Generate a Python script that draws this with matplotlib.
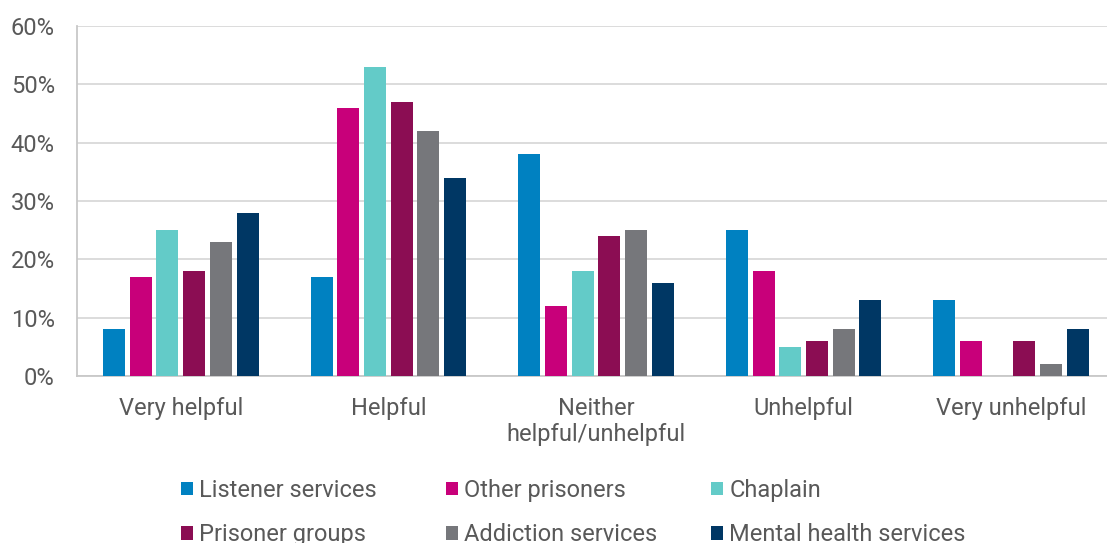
import numpy as np
import matplotlib.pyplot as plt
from matplotlib.ticker import PercentFormatter

plt.rcParams['font.family'] = ['Roboto', 'DejaVu Sans']

# data
categories = ["Very helpful", "Helpful", "Neither\nhelpful/unhelpful", "Unhelpful", "Very unhelpful"]
series = ["Listener services", "Other prisoners", "Chaplain",
          "Prisoner groups", "Addiction services", "Mental health services"]
listener = [8, 17, 38, 25, 13]
other_prisoners = [17, 46, 12, 18, 6]
chaplain = [25, 53, 18, 5, 0]
prisoner_groups = [18, 47, 24, 6, 6]
addiction = [23, 42, 25, 8, 2]
mental_health = [28, 34, 16, 13, 8]
values = [listener, other_prisoners, chaplain, prisoner_groups, addiction, mental_health]

colors = ['#0081c1', '#c8007a', '#63cbc8', '#8b0d53', '#76777b', '#003764']
text_color = '#595959'

fig = plt.figure(figsize=(11.07, 5.43), dpi=100)
ax = fig.add_axes([0.0696, 0.3076, 0.9375, 0.6446])

x = np.arange(len(categories))
slot = 0.1285
bw = 0.106
handles = []
for i, (name, vals) in enumerate(zip(series, values)):
    b = ax.bar(x + (i - 2.5) * slot, vals, width=bw, color=colors[i], label=name, zorder=3)
    handles.append(b)

ax.set_xlim(-0.5, len(categories) - 0.5)
ax.set_ylim(0, 60)
ax.set_yticks(range(0, 61, 10))
ax.yaxis.set_major_formatter(PercentFormatter(decimals=0))
ax.set_xticks(x)
ax.set_xticklabels(categories)
ax.grid(axis='y', color='#d9d9d9', linewidth=1.3, zorder=0)
for s in ['top', 'right']:
    ax.spines[s].set_visible(False)
for s in ['left', 'bottom']:
    ax.spines[s].set_color('#c8c8c8')
    ax.spines[s].set_linewidth(1.3)
ax.tick_params(axis='both', length=0, colors=text_color, labelsize=17)
ax.tick_params(axis='y', pad=16)
ax.tick_params(axis='x', pad=15)

# legend: three fixed-width columns, two rows (row-major order like the original)
col_x = [181 / 1107, 446 / 1107, 711 / 1107]
for c in range(3):
    idx = [c, c + 3]
    leg = fig.legend([handles[k] for k in idx], [series[k] for k in idx],
                     loc='upper left', bbox_to_anchor=(col_x[c], 0.118),
                     frameon=False, fontsize=17, handlelength=0.5, handleheight=0.5,
                     handletextpad=0.27, labelspacing=0.9,
                     borderaxespad=0, borderpad=0)
    for t in leg.get_texts():
        t.set_color(text_color)

fig.savefig('out.png', dpi=100)
